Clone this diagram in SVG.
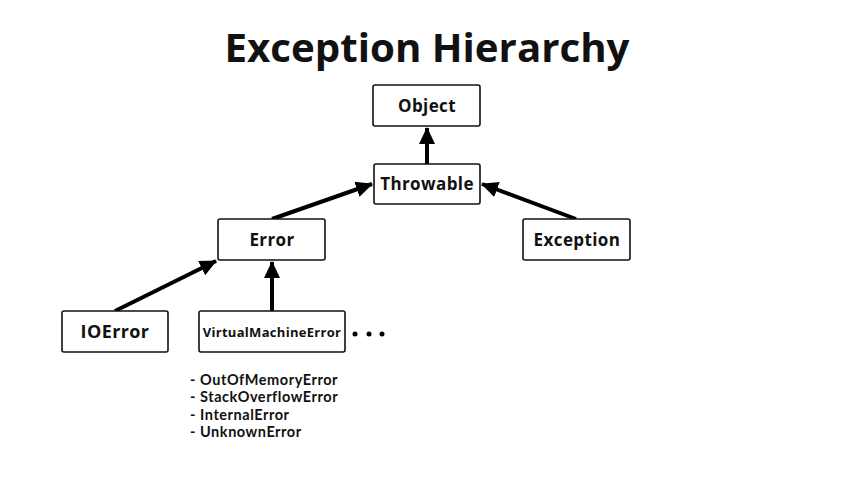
<svg xmlns="http://www.w3.org/2000/svg" width="854" height="480" viewBox="0 0 854 480">
<style>
.box{fill:#fff;stroke:#111;stroke-width:1.6}
.lbl{font-family:"Open Sans","Liberation Sans",sans-serif;font-weight:700;fill:#111;text-anchor:middle;letter-spacing:0.4px}
.edge{stroke:#000;stroke-width:4;fill:none;marker-end:url(#ah)}
.list{font-family:Lato,"Open Sans","Liberation Sans",sans-serif;font-weight:700;fill:#111;font-size:14.5px;letter-spacing:0.55px}
</style>
<defs>
<marker id="ah" markerUnits="userSpaceOnUse" markerWidth="18" markerHeight="18" viewBox="0 0 18 18" refX="16" refY="9" orient="auto">
<path d="M0,1 L17,9 L0,17 Z" fill="#000"/>
</marker>
</defs>
<rect width="854" height="480" fill="#fff"/>
<text x="427" y="62" class="lbl" font-size="40" textLength="405" lengthAdjust="spacingAndGlyphs" style="letter-spacing:0">Exception Hierarchy</text>
<g id="connectors">
<line class="edge" x1="427" y1="164" x2="427" y2="128"/>
<line class="edge" x1="272" y1="219" x2="372" y2="184"/>
<line class="edge" x1="576" y1="219" x2="482" y2="184"/>
<line class="edge" x1="115" y1="311" x2="216" y2="261"/>
<line class="edge" x1="272" y1="311" x2="272" y2="262"/>
</g>
<g id="object"><rect class="box" x="373" y="85" width="107" height="41" rx="2"/><text x="427" y="112" class="lbl" font-size="17">Object</text></g>
<g id="throwable"><rect class="box" x="374" y="164" width="106" height="40" rx="2"/><text x="427" y="190" class="lbl" font-size="17">Throwable</text></g>
<g id="error"><rect class="box" x="218" y="219" width="107" height="41" rx="2"/><text x="272" y="246" class="lbl" font-size="17">Error</text></g>
<g id="exception"><rect class="box" x="523" y="219" width="107" height="41" rx="2"/><text x="577" y="246" class="lbl" font-size="17">Exception</text></g>
<g id="ioerror"><rect class="box" x="62" y="311" width="106" height="41" rx="2"/><text x="115" y="338" class="lbl" font-size="18">IOError</text></g>
<g id="vme"><rect class="box" x="199" y="311" width="146" height="41" rx="2"/><text x="272" y="337" class="lbl" font-size="13" style="letter-spacing:0.3px">VirtualMachineError</text></g>
<g id="dots" fill="#000"><circle cx="355" cy="334" r="2.5"/><circle cx="369" cy="334" r="2.5"/><circle cx="382" cy="334" r="2.5"/></g>
<g id="subtypes">
<text x="190" y="385" class="list">- OutOfMemoryError</text>
<text x="190" y="402" class="list">- StackOverflowError</text>
<text x="190" y="420" class="list">- InternalError</text>
<text x="190" y="437" class="list">- UnknownError</text>
</g>
</svg>
